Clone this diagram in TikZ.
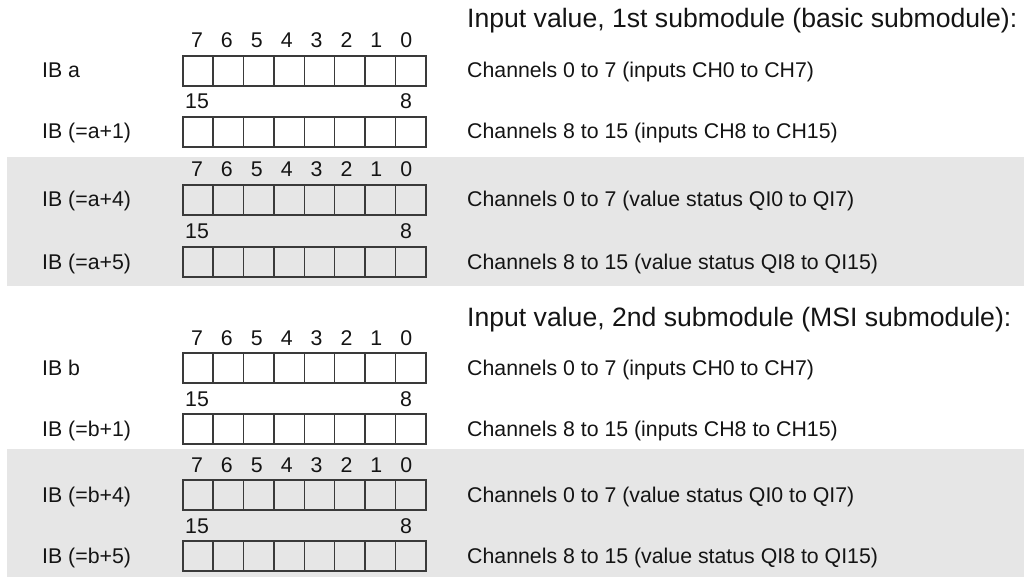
\documentclass[tikz,border=0pt]{standalone}
\usepackage{fontspec}
\setmainfont{Liberation Sans}
\definecolor{bandgray}{HTML}{E6E6E6}
\definecolor{linegray}{HTML}{3A3A3A}
\definecolor{textblack}{HTML}{141414}
\tikzset{
  rowlabel/.style={anchor=base west,inner sep=0pt,text=textblack,font=\fontsize{21.3}{25}\selectfont},
  titletext/.style={anchor=base west,inner sep=0pt,text=textblack,font=\fontsize{26.6}{30}\selectfont},
  bitnum/.style={anchor=base,inner sep=0pt,text=textblack,font=\fontsize{21.3}{25}\selectfont},
  bitcell/.style={draw=linegray,line width=1.6pt,minimum width=30.375pt,minimum height=30pt,inner sep=0pt,anchor=north west}
}
\begin{document}
\begin{tikzpicture}[x=1pt,y=-1pt]
  \useasboundingbox (0,0) rectangle (1024,577);
  % grey bands behind the status bytes
  \fill[bandgray] (7,157) rectangle (1024,286);
  \fill[bandgray] (7,449) rectangle (1024,577);
  \node[titletext] (title1) at (467,28) {Input value, 1st submodule (basic submodule):};
  \node[titletext] (title2) at (467,326) {Input value, 2nd submodule (MSI submodule):};
  \foreach \r/\ytop/\lab/\txt in {
      1/55/{IB a}/{Channels 0 to 7 (inputs CH0 to CH7)},
      2/116/{IB (=a+1)}/{Channels 8 to 15 (inputs CH8 to CH15)},
      3/184/{IB (=a+4)}/{Channels 0 to 7 (value status QI0 to QI7)},
      4/246/{IB (=a+5)}/{Channels 8 to 15 (value status QI8 to QI15)},
      5/352/{IB b}/{Channels 0 to 7 (inputs CH0 to CH7)},
      6/413/{IB (=b+1)}/{Channels 8 to 15 (inputs CH8 to CH15)},
      7/479/{IB (=b+4)}/{Channels 0 to 7 (value status QI0 to QI7)},
      8/540/{IB (=b+5)}/{Channels 8 to 15 (value status QI8 to QI15)}}
  {
    \node[rowlabel] (ib\r) at (42,\ytop+23) {\lab};
    \node[rowlabel] (ch\r) at (467,\ytop+23) {\txt};
    \foreach \c in {0,...,7}
      \node[bitcell] (cell\r-\c) at ({182+30.375*\c},\ytop) {};
    \ifodd\r
      \foreach \b in {0,...,7}
        \node[bitnum] (bit\r-\b) at ({197+29.9*(7-\b)},\ytop-7) {\b};
    \else
      \node[bitnum] (bit\r-15) at (197,\ytop-7) {15};
      \node[bitnum] (bit\r-8) at (406,\ytop-7) {8};
    \fi
  }
\end{tikzpicture}
\end{document}
